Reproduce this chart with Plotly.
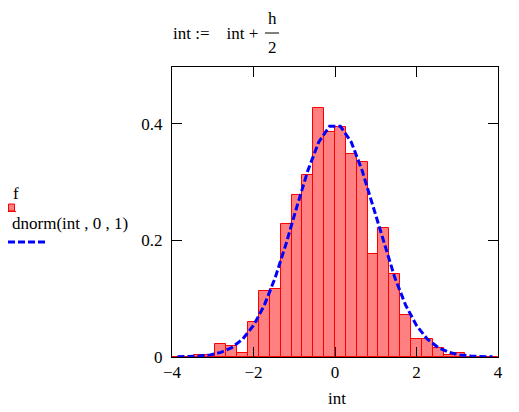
import plotly.graph_objects as go

# bin width and bin centers (int := int + h/2)
h = 8 / 30
bin_centers = [-4 + (k + 0.5) * h for k in range(30)]

# histogram densities
f_values = [0.0, 0.0, 0.00375, 0.00375, 0.0225, 0.01875, 0.0075, 0.06,
            0.1125, 0.11625, 0.22875, 0.2775, 0.31125, 0.4275, 0.38625,
            0.39375, 0.34875, 0.33375, 0.17625, 0.22125, 0.1425, 0.07125,
            0.03, 0.03, 0.015, 0.00375, 0.0075, 0.0, 0.0, 0.0]

# dnorm(int,0,1) at the bin centers
dnorm_values = [0.000226, 0.000612, 0.001542, 0.003620, 0.007915, 0.016117,
                0.030562, 0.053991, 0.088821, 0.136077, 0.194186, 0.258068,
                0.319448, 0.368270, 0.395413, 0.395413, 0.368270, 0.319448,
                0.258068, 0.194186, 0.136077, 0.088821, 0.053991, 0.030562,
                0.016117, 0.007915, 0.003620, 0.001542, 0.000612, 0.000226]

x_ticks = [-4, -2, 0, 2, 4]
x_tick_labels = ["\u22124", "\u22122", "0", "2", "4"]
y_ticks = [0, 0.2, 0.4]
y_tick_labels = ["0", "0.2", "0.4"]

FONT = "Liberation Serif"
FS = 17
BAR_FILL = "#FF8080"
BAR_LINE = "#FF0000"
CURVE = "#0000FF"

fig = go.Figure()
fig.add_trace(go.Bar(
    x=bin_centers, y=f_values, width=h,
    marker=dict(color=BAR_FILL, line=dict(color=BAR_LINE, width=1)),
    name="f",
))
fig.add_trace(go.Scatter(
    x=bin_centers, y=dnorm_values, mode="lines",
    line=dict(color=CURVE, width=3, dash="7px,3px"),
    name="dnorm(int,0,1)",
))

# the page adds an 8px body margin, so the figure is 8px smaller
OFF = 8
W, H = 519 - OFF, 412 - OFF
L, R, T, B = 172 - OFF, 21, 67 - OFF, 55
pw, ph = W - L - R, H - T - B


def px(xp):
    return (xp - OFF - L) / pw


def py(yp):
    return (H - B - (yp - OFF)) / ph


axis_common = dict(
    showgrid=False, zeroline=False, showline=True, linecolor="black",
    linewidth=1, mirror="allticks", ticks="inside", ticklen=10,
    tickcolor="black", tickwidth=1,
    tickfont=dict(family=FONT, size=FS, color="black"),
)

fig.update_layout(
    width=W, height=H,
    margin=dict(l=L, r=R, t=T, b=B),
    paper_bgcolor="white", plot_bgcolor="white",
    font=dict(family=FONT, size=FS, color="black"),
    showlegend=False, bargap=0,
    xaxis=dict(range=[-4, 4], tickvals=x_ticks, ticktext=x_tick_labels,
               **axis_common),
    yaxis=dict(range=[0, 0.497], tickvals=y_ticks, ticktext=y_tick_labels,
               ticklabelstandoff=5, **axis_common),
)

ann_font = dict(family=FONT, size=FS, color="black")
annotations = [
    # x-axis title
    dict(text="int", x=px(337), y=py(398), xref="paper", yref="paper",
         showarrow=False, font=ann_font, xanchor="center", yanchor="middle"),
    # title: int := int + h/2
    dict(text="int :=\u2003int +", x=px(171), y=py(33), xref="paper",
         yref="paper", showarrow=False, font=ann_font, xanchor="left",
         yanchor="middle"),
    dict(text="h", x=px(272), y=py(18), xref="paper", yref="paper",
         showarrow=False, font=ann_font, xanchor="center", yanchor="middle"),
    dict(text="2", x=px(272), y=py(48), xref="paper", yref="paper",
         showarrow=False, font=ann_font, xanchor="center", yanchor="middle"),
    # legend texts
    dict(text="f", x=px(11), y=py(193), xref="paper", yref="paper",
         showarrow=False, font=ann_font, xanchor="left", yanchor="middle"),
    dict(text="dnorm(int , 0 , 1)", x=px(10), y=py(223), xref="paper",
         yref="paper", showarrow=False, font=ann_font, xanchor="left",
         yanchor="middle"),
]
fig.update_layout(annotations=annotations)

shapes = [
    # fraction bar
    dict(type="line", xref="paper", yref="paper", x0=px(265), x1=px(279),
         y0=py(33), y1=py(33), line=dict(color="black", width=1)),
    # legend bar sample
    dict(type="rect", xref="paper", yref="paper", x0=px(8.5), x1=px(14.5),
         y0=py(211), y1=py(204), fillcolor=BAR_FILL,
         line=dict(color=BAR_LINE, width=1)),
    dict(type="line", xref="paper", yref="paper", x0=px(7), x1=px(16),
         y0=py(211.5), y1=py(211.5), line=dict(color=BAR_LINE, width=1)),
    # legend dashed line sample
    dict(type="line", xref="paper", yref="paper", x0=px(8), x1=px(45),
         y0=py(242), y1=py(242),
         line=dict(color=CURVE, width=3, dash="7px,3px")),
]
fig.update_layout(shapes=shapes)

fig.write_html("out.html")
